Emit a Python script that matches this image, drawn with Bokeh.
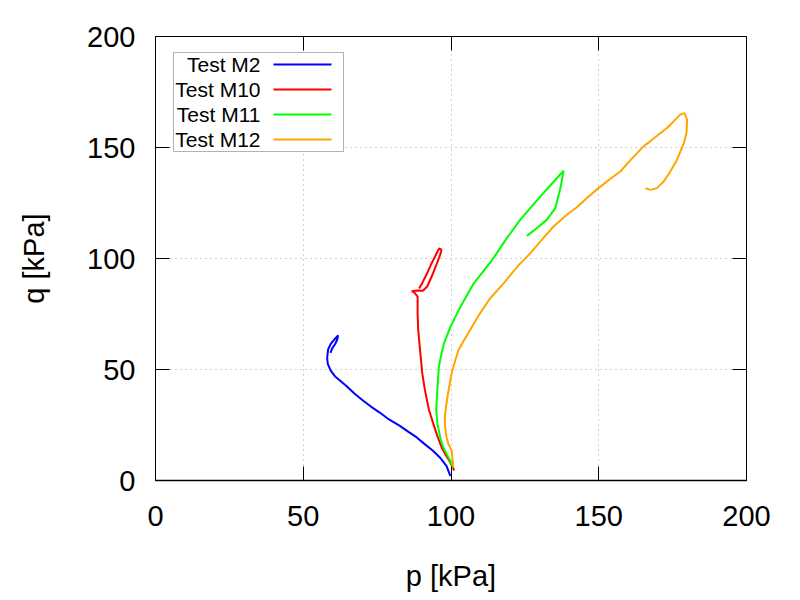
from bokeh.plotting import figure
from bokeh.models import (LinearAxis, SingleIntervalTicker, CustomJSTickFormatter,
                          Range1d, Label, BoxAnnotation, Arrow)
from bokeh.embed import file_html
from bokeh.resources import INLINE

# ---------------- data ----------------
m2_p = [99.8, 98.5, 96.5, 94.0, 91.0, 88.4, 85.5, 82.7, 79.0, 75.9, 73.0, 70.3, 67.5,
        64.6, 62.0, 60.7, 59.3, 58.3, 58.1, 58.4, 59.3, 60.5, 61.8, 61.5, 60.8, 59.8, 59.2]
m2_q = [2.0, 6.5, 10.0, 13.3, 16.5, 19.4, 22.0, 24.6, 27.5, 30.6, 33.2, 35.9, 39.0,
        42.6, 45.5, 47.0, 49.5, 52.5, 55.3, 59.0, 61.5, 63.5, 65.4, 63.5, 61.5, 59.5, 57.5]

m10_p = [101.1, 99.7, 98.2, 96.8, 95.4, 94.0, 92.5, 91.2, 90.3, 89.8, 89.3, 88.9, 88.7,
         88.7, 87.5, 86.7, 88.5, 90.5, 92.0, 93.5, 95.0, 96.3, 96.8, 96.0, 95.0, 93.5,
         91.8, 90.3, 89.2]
m10_q = [4.5, 8.3, 11.5, 15.0, 20.0, 25.6, 32.0, 40.6, 48.0, 55.0, 62.0, 68.0, 75.0,
         82.8, 84.8, 85.3, 85.6, 85.5, 87.5, 92.0, 97.0, 101.5, 104.0, 104.5, 102.0, 98.0,
         93.0, 89.0, 86.5]

m11_p = [100.8, 99.7, 98.5, 97.4, 96.4, 95.4, 95.0, 95.3, 95.9, 96.6, 97.6, 99.8, 103.2,
         107.7, 113.9, 118.5, 123.4, 126.8, 130.2, 134.2, 138.1, 137.5, 136.9, 135.3,
         132.4, 129.0, 125.7]
m11_q = [5.7, 9.0, 12.0, 15.0, 19.0, 25.6, 32.0, 39.2, 51.2, 56.0, 61.7, 69.2, 78.3,
         88.8, 99.3, 108.4, 117.4, 122.7, 127.9, 133.8, 139.6, 135.0, 131.0, 122.7,
         117.4, 113.6, 110.2]

m12_p = [100.8, 100.5, 100.2, 99.1, 98.5, 98.0, 97.9, 98.3, 98.8, 99.5, 100.2, 101.3,
         102.5, 104.3, 106.4, 109.8, 113.2, 117.8, 122.9, 126.8, 130.7, 134.7, 139.0,
         142.5, 146.0, 149.9, 153.5, 157.3, 161.2, 165.2, 169.2, 173.1, 175.5, 177.6,
         179.0, 179.9, 179.7, 178.8, 176.5, 174.2, 172.0, 169.7, 167.5, 165.8]
m12_q = [6.0, 10.0, 13.5, 16.5, 19.5, 24.0, 28.6, 33.0, 37.6, 43.0, 48.2, 53.5,
         58.7, 63.0, 67.7, 75.3, 82.0, 88.8, 97.0, 102.3, 108.4, 114.4, 119.5,
         123.0, 127.3, 131.7, 135.5, 139.2, 145.0, 150.5, 154.7, 158.8, 162.0, 164.8,
         165.5, 162.5, 156.5, 152.0, 144.5, 139.2, 134.7, 131.7, 130.9, 131.7]

series_names = ["Test M2", "Test M10", "Test M11", "Test M12"]
series_colors = ["#0000ff", "#ff0000", "#00ff00", "#ffa500"]
series_data = [(m2_p, m2_q), (m10_p, m10_q), (m11_p, m11_q), (m12_p, m12_q)]

x_label = "p [kPa]"
y_label = "q [kPa]"

FONT = "Liberation Sans"
TICK_SIZE = "29px"

p = figure(width=800, height=600, output_backend="svg", toolbar_location=None,
           x_range=Range1d(0, 200), y_range=Range1d(0, 200),
           min_border_left=155, min_border_right=54, min_border_top=36,
           min_border_bottom=120)

p.outline_line_color = "black"
p.outline_line_width = 1
p.background_fill_color = "white"
p.border_fill_color = "white"

for (xs, ys), c in zip(series_data, series_colors):
    p.line(xs, ys, line_color=c, line_width=2)

ticker = SingleIntervalTicker(interval=50, num_minor_ticks=0)

for ax in (p.xaxis[0], p.yaxis[0]):
    ax.ticker = ticker
    ax.major_tick_in = 14
    ax.major_tick_out = 0
    ax.minor_tick_in = 0
    ax.minor_tick_out = 0
    ax.major_tick_line_color = "black"
    ax.axis_line_color = "black"
    ax.major_label_text_font = FONT
    ax.major_label_text_font_size = TICK_SIZE
    ax.major_label_text_color = "black"
    ax.axis_label_text_font = FONT
    ax.axis_label_text_font_size = TICK_SIZE
    ax.axis_label_text_font_style = "normal"
    ax.axis_label_text_color = "black"

p.xaxis[0].axis_label = x_label
p.yaxis[0].axis_label = y_label
p.xaxis[0].major_label_standoff = 25
p.xaxis[0].axis_label_standoff = 31
p.xaxis[0].axis_line_width = 1.5
p.yaxis[0].major_label_standoff = 20
p.yaxis[0].axis_label_standoff = 34

# mirrored ticks on top and right
blank = CustomJSTickFormatter(code="return ''")
for loc in ("above", "right"):
    a = LinearAxis(ticker=ticker, formatter=blank, major_tick_in=14, major_tick_out=0,
                   minor_tick_in=0, minor_tick_out=0, axis_line_color=None,
                   major_label_standoff=0, major_tick_line_color="black")
    p.add_layout(a, loc)

p.grid.ticker = ticker
p.grid.grid_line_color = "#a0a0a0"
p.grid.grid_line_dash = "1 4"
p.grid.grid_line_width = 1

# gnuplot-style key: label right-aligned, line sample to its right
KEY_LEFT, KEY_RIGHT, KEY_TOP, KEY_BOTTOM = 18, 188, 428, 329
ROW0, ROW_STEP = 416, 25
TEXT_RIGHT, LINE_X0, LINE_X1 = 105, 118, 176

p.add_layout(BoxAnnotation(left=KEY_LEFT, right=KEY_RIGHT, top=KEY_TOP, bottom=KEY_BOTTOM,
                           left_units="screen", right_units="screen",
                           top_units="screen", bottom_units="screen",
                           fill_color="white", fill_alpha=1.0,
                           line_color="black", line_width=1, level="annotation"))
for i, (name, c) in enumerate(zip(series_names, series_colors)):
    yrow = ROW0 - i * ROW_STEP
    p.add_layout(Label(x=TEXT_RIGHT, y=yrow, x_units="screen", y_units="screen",
                       text=name, text_align="right", text_baseline="middle",
                       text_font=FONT, text_font_size="21px", text_color="black"))
    p.add_layout(Arrow(x_start=LINE_X0, y_start=yrow, x_end=LINE_X1, y_end=yrow,
                       start_units="screen", end_units="screen", start=None, end=None,
                       line_color=c, line_width=2))

open("out.html", "w").write(file_html(p, INLINE))
